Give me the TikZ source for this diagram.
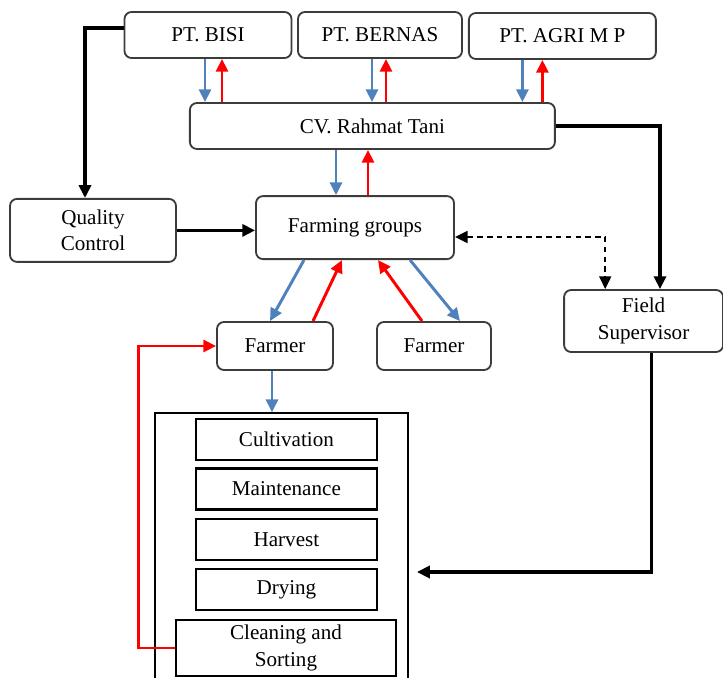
\documentclass[tikz,border=0pt]{standalone}
\usepackage{fontspec}
\setmainfont{Liberation Serif}
\usetikzlibrary{arrows.meta,positioning}
\definecolor{steel}{RGB}{79,129,189}
\definecolor{signal}{RGB}{255,0,0}
\definecolor{frame}{RGB}{60,60,60}
\tikzset{
  >={Triangle[length=3.2mm,width=3mm]},
  box/.style={draw=frame,rounded corners=5pt,line width=1.3pt,
    minimum height=11.5mm,align=center,font=\fontsize{15}{19}\selectfont},
  stage/.style={draw=black,line width=1.5pt,minimum width=45.25mm,
    minimum height=10.25mm,align=center,font=\fontsize{15}{19}\selectfont},
  flow/.style={->,line width=2.1pt,draw=#1},
  flow/.default=black,
}

\begin{document}
\begin{tikzpicture}
  \useasboundingbox (0,0) rectangle (18.075,-16.95);
  \clip (0,0) rectangle (18.075,-16.95);
  % companies
  \node[box,minimum width=41.75mm] (bisi) at (5.2,-0.875) {PT. BISI};
  \node[box,minimum width=41mm] (bernas) at (9.5,-0.875) {PT. BERNAS};
  \node[box,minimum width=46.75mm] (agri) at (14.06,-0.9) {PT. AGRI M P};
  \node[box,minimum width=91.25mm] (cv) at (9.31,-3.15) {CV. Rahmat Tani};
  \node[box,minimum width=41.5mm,minimum height=15.75mm] (qc) at (2.325,-5.76) {Quality\\Control};
  \node[box,minimum width=49.5mm,minimum height=15.75mm] (fg) at (8.875,-5.69) {Farming groups};
  \node[box,minimum width=39.75mm,minimum height=15.5mm] (fs) at (16.09,-8.025) {Field\\Supervisor};
  \node[box,minimum width=29mm,minimum height=12mm] (farmerA) at (6.875,-8.65) {Farmer};
  \node[box,minimum width=28.5mm,minimum height=12mm] (farmerB) at (10.85,-8.65) {Farmer};
  % stages of the farmer
  \node[draw,line width=1.2pt,minimum width=63.25mm,minimum height=69.25mm] (stages) at (7.04,-13.79) {};
  \node[stage] (cult) at (7.16,-10.99) {Cultivation};
  \node[stage] (maint) at (7.16,-12.225) {Maintenance};
  \node[stage] (harv) at (7.16,-13.49) {Harvest};
  \node[stage] (dry) at (7.16,-14.74) {Drying};
  \node[stage,minimum width=55mm,minimum height=14mm] (clean) at (7.15,-16.2) {Cleaning and\\Sorting};
  % supply and return
  \draw[flow=steel] ([xshift=-0.075cm]bisi.south) -- ([xshift=-0.075cm]bisi.south |- cv.north);
  \draw[flow=signal] ([xshift=0.35cm]bisi.south |- cv.north) -- ([xshift=0.35cm]bisi.south);
  \draw[flow=steel] ([xshift=-0.2cm]bernas.south) -- ([xshift=-0.2cm]bernas.south |- cv.north);
  \draw[flow=signal] ([xshift=0.15cm]bernas.south |- cv.north) -- ([xshift=0.15cm]bernas.south);
  \draw[flow=steel] ([xshift=-1cm]agri.south) -- ([xshift=-1cm]agri.south |- cv.north);
  \draw[flow=signal] ([xshift=-0.5cm]agri.south |- cv.north) -- ([xshift=-0.5cm]agri.south);
  \draw[flow=steel] ([xshift=-0.475cm]fg.north |- cv.south) -- ([xshift=-0.475cm]fg.north);
  \draw[flow=signal] ([xshift=0.325cm]fg.north) -- ([xshift=0.325cm]fg.north |- cv.south);
  \draw[flow=steel] ([xshift=-1.275cm]fg.south) -- ([xshift=-0.125cm]farmerA.north);
  \draw[flow=signal] ([xshift=0.95cm]farmerA.north) -- ([xshift=-0.325cm]fg.south);
  \draw[flow=signal] ([xshift=-0.3cm]farmerB.north) -- ([xshift=0.575cm]fg.south);
  \draw[flow=steel] ([xshift=1.375cm]fg.south) -- ([xshift=0.65cm]farmerB.north);
  \draw[flow=steel] ([xshift=-0.075cm]farmerA.south) -- ([xshift=-0.075cm]farmerA.south |- stages.north);
  \draw[flow=signal] (clean.west) -- ++(-0.9,0) |- (farmerA.west);
  % control
  \draw[flow,line width=2.4pt] ([yshift=0.175cm]bisi.west) -| ([xshift=-0.2cm]qc.north);
  \draw[flow,line width=2.4pt] (qc.east) -- (qc.east -| fg.west);
  \draw[flow,line width=2.4pt] (cv.east) -| ([xshift=0.41cm]fs.north);
  \draw[flow,<->,line width=1.3pt,dash pattern=on 4pt off 3pt] ([yshift=-0.235cm]fg.east) -| ([xshift=-0.96cm]fs.north);
  \draw[flow,line width=2.4pt] ([xshift=0.19cm]fs.south) |- ([xshift=0.2cm,yshift=-0.51cm]stages.east);
\end{tikzpicture}
\end{document}
